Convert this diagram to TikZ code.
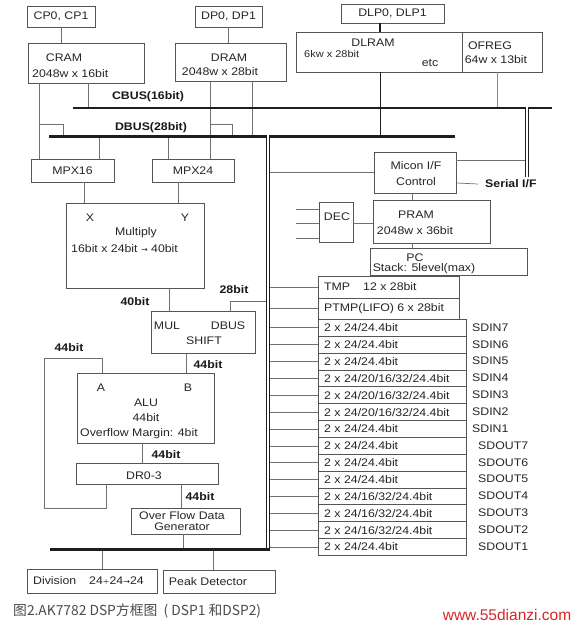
\documentclass[tikz,border=0pt]{standalone}
\usepackage{fontspec}
\setmainfont{Liberation Sans}[FakeStretch=1.12]
\newfontfamily\webfont{Liberation Sans}
\newfontfamily\cjkfont{Noto Sans CJK SC}
\newfontfamily\symfont{DejaVu Sans}
\definecolor{boxgray}{HTML}{555555}
\definecolor{wiregray}{HTML}{707070}
\definecolor{busblack}{HTML}{1E1E1E}
\definecolor{webred}{HTML}{D8262A}
\newcommand\boxfont{\fontsize{11}{13}\selectfont}
\newcommand\smallboxfont{\fontsize{9.8}{11}\selectfont}
\newcommand\rowA{2 x 24/24.4bit}
\newcommand\rowB{2 x 24/20/16/32/24.4bit}
\newcommand\rowC{2 x 24/16/32/24.4bit}
\newcommand\arr{{\symfont\fontsize{8}{10}\selectfont →}}
\tikzset{
  blk/.style={draw=boxgray,line width=0.8pt,inner sep=0pt,font=\boxfont,text=black!85},
  txt/.style={inner sep=0pt,font=\boxfont,text=black!85},
  buslabel/.style={inner sep=0pt,font=\boxfont\bfseries,text=black!90},
  wire/.style={draw=wiregray,line width=0.7pt},
  dbl/.style={draw=busblack,double=white,double distance=1.1pt,line width=1.3pt}
}
\begin{document}
\begin{tikzpicture}[x=1pt,y=-1pt]
\useasboundingbox[fill=white] (0,0) rectangle (576,626);
\node[blk,minimum width=68,minimum height=21] (cp) at (61,16.5) {CP0, CP1};
\node[blk,minimum width=67,minimum height=21] (dp) at (228.5,16.5) {DP0, DP1};
\node[blk,minimum width=103,minimum height=19] (dlp) at (392.5,13.5) {DLP0, DLP1};
\node[blk,minimum width=116,minimum height=40] (cram) at (86,63) {};
\node[txt] (cramname) at (64,58) {CRAM};
\node[txt,anchor=west] (cramsize) at (32,74) {2048w x 16bit};
\node[blk,minimum width=111,minimum height=38] (dram) at (230.5,62) {};
\node[txt] (dramname) at (229,58) {DRAM};
\node[txt] (dramsize) at (220,72) {2048w x 28bit};
\node[blk,minimum width=166,minimum height=40] (dlram) at (379,52) {};
\node[txt] (dlramname) at (373,43) {DLRAM};
\node[txt,anchor=west,font=\smallboxfont] (dlramsize) at (304,54) {6kw x 28bit};
\node[txt] (dlrametc) at (430,63) {etc};
\node[blk,minimum width=80,minimum height=40] (ofreg) at (502,52) {};
\node[txt] (ofregname) at (490,46) {OFREG};
\node[txt] (ofregsize) at (496,60) {64w x 13bit};
\node[blk,minimum width=83,minimum height=23] (mpx16) at (72.5,170.5) {MPX16};
\node[blk,minimum width=82,minimum height=23] (mpx24) at (193,170.5) {MPX24};
\node[blk,minimum width=138,minimum height=85] (mult) at (135,245.5) {};
\node[txt] (multx) at (90,218) {X};
\node[txt] (multy) at (185,218) {Y};
\node[txt] (multname) at (136,233) {Multiply};
\node[txt,anchor=west] (multbits) at (71,249) {16bit x 24bit \arr\ 40bit};
\node[blk,minimum width=104,minimum height=42] (shift) at (203,332) {};
\node[txt] (shiftmul) at (167,326) {MUL};
\node[txt] (shiftdbus) at (228,326) {DBUS};
\node[txt] (shiftname) at (204,341) {SHIFT};
\node[blk,minimum width=137,minimum height=70] (alu) at (145.5,408) {};
\node[txt] (alua) at (101,388) {A};
\node[txt] (alub) at (188,388) {B};
\node[txt] (aluname) at (146,403) {ALU};
\node[txt] (alubits) at (146,418) {44bit};
\node[txt] (alumargin) at (139,434) {Overflow Margin: 4bit};
\node[blk,minimum width=142,minimum height=21] (dr) at (147,473.5) {};
\node[txt] (drname) at (144,476) {DR0-3};
\node[blk,minimum width=109,minimum height=26] (ofd) at (185.5,521) {};
\node[txt,align=center,font=\fontsize{11}{10.5}\selectfont] (ofdname) at (182,521) {Over Flow Data\\Generator};
\node[blk,minimum width=130,minimum height=24] (div) at (92,581) {};
\node[txt,anchor=west] (divname) at (33,581) {Division};
\node[txt,anchor=west] (divop) at (89,581) {24{\symfont\fontsize{8}{10}\selectfont ÷}24\arr24};
\node[blk,minimum width=112,minimum height=23] (peak) at (219,581.5) {};
\node[txt] (peakname) at (208,582) {Peak Detector};
\node[blk,minimum width=82,minimum height=41] (micon) at (415,172.5) {};
\node[txt] (miconname) at (416,166) {Micon I/F};
\node[txt] (miconctl) at (416,182) {Control};
\node[blk,minimum width=117,minimum height=43] (pram) at (431.5,221.5) {};
\node[txt] (pramname) at (416,215) {PRAM};
\node[txt] (pramsize) at (415,231) {2048w x 36bit};
\node[blk,minimum width=34,minimum height=40] (dec) at (336,222) {};
\node[txt] (decname) at (337,217) {DEC};
\node[blk,minimum width=157,minimum height=27] (pc) at (448.5,261.5) {};
\node[txt] (pcname) at (415,257.5) {PC};
\node[txt] (pcstack) at (424,269) {Stack: 5level(max)};
\node[blk,minimum width=141,minimum height=22] (tmp) at (388.5,287) {};
\node[txt,anchor=west] (tmpname) at (324,287) {TMP};
\node[txt,anchor=west] (tmpsize) at (363,287) {12 x 28bit};
\node[blk,minimum width=141,minimum height=21] (ptmp) at (388.5,308.5) {};
\node[txt,anchor=west] (ptmpname) at (324,309) {PTMP(LIFO) 6 x 28bit};
\coordinate (cbusL) at (73,108);
\coordinate (cbusR) at (552,108);
\coordinate (dbusL) at (49,136);
\coordinate (dbusR) at (455,136);
\coordinate (vbusT) at (268,134.5);
\coordinate (vbusB) at (268,549);
\coordinate (botL) at (50,549);
\coordinate (sbusT) at (527,107);
\coordinate (sbusB) at (527,177);
\coordinate (cramtap) at (39,124);
\coordinate (dramtap) at (210,124);
\foreach \i/\w/\lab/\lx in {1/\rowA/SDIN7/472,2/\rowA/SDIN6/472,3/\rowA/SDIN5/472,4/\rowB/SDIN4/472,5/\rowB/SDIN3/472,6/\rowB/SDIN2/472,7/\rowA/SDIN1/472,8/\rowA/SDOUT7/478,9/\rowA/SDOUT6/478,10/\rowA/SDOUT5/478,11/\rowC/SDOUT4/478,12/\rowC/SDOUT3/478,13/\rowC/SDOUT2/478,14/\rowA/SDOUT1/478}{
  \node[blk,anchor=north west,minimum width=148,minimum height=16.86] (r\i) at (318,{319+(\i-1)*16.86}) {};
  \node[txt,anchor=west] (rt\i) at ([xshift=6pt]r\i.west) {\w};
  \node[txt,anchor=west] (rl\i) at (\lx,{327.4+(\i-1)*16.86}) {\lab};
  \draw[wire] (vbusT |- r\i.west) -- (r\i.west);
}
\draw[wire] (cp.south) -- (cp.south |- cram.north);
\draw[wire] (dp.south) -- (dp.south |- dram.north);
\draw[busblack,line width=1.3pt] (dlp.south -| 380,0) -- (dlram.north -| 380,0);
\draw[wire] (cram.south -| 39,0) -- (mpx16.north -| 39,0);
\draw[wire] (cram.south -| 88,0) -- (cbusL -| 88,0);
\draw[wire] (cramtap) -| (dbusL -| 63,0);
\draw[wire] (dram.south -| 210,0) -- (mpx24.north -| 210,0);
\draw[wire] (dram.south -| 252,0) -- (dbusL -| 252,0);
\draw[wire] (dramtap) -| (dbusL -| 232,0);
\draw[busblack,line width=0.8pt] (dlram.south -| 380,0) -- (dbusL -| 380,0);
\draw[wire,draw=black!45] (ofreg.south -| 497,0) -- (cbusL -| 497,0);
\draw[wire] (dbusL -| 99,0) -- (mpx16.north -| 99,0);
\draw[wire] (dbusL -| 168,0) -- (mpx24.north -| 168,0);
\draw[wire] (mpx16.south -| 84,0) -- (mult.north -| 84,0);
\draw[wire] (mpx24.south -| 178,0) -- (mult.north -| 178,0);
\draw[wire] (mult.south -| 169,0) -- (shift.north -| 169,0);
\draw[wire] (shift.north -| 230,0) |- (vbusT |- 0,301);
\draw[wire] (shift.south -| 186,0) -- (alu.north -| 186,0);
\draw[wire] (alu.south -| 142,0) -- (dr.north -| 142,0);
\draw[wire] (dr.south -| 181,0) -- (ofd.north -| 181,0);
\draw[wire] (ofd.south -| 183,0) -- (botL -| 183,0);
\draw[wire] (alu.north -| 102,0) |- (44,358) |- (106,508) -- (dr.south -| 106,0);
\draw[wire] (botL -| 102,0) -- (div.north -| 102,0);
\draw[wire] (botL -| 213,0) -- (peak.north -| 213,0);
\draw[wire] (vbusT |- micon.west) -- (micon.west);
\draw[wire] (micon.east |- 0,160) -- (sbusT |- 0,160);
\draw[wire] (micon.south -| 412,0) -- (pram.north -| 412,0);
\draw[wire] (dec.east |- 0,223) -- (pram.west |- 0,223);
\foreach \y in {209,223,238} \draw[wire] (296,\y) -- (dec.west |- 0,\y);
\draw[wire] (pram.south -| 412,0) -- (pc.north -| 412,0);
\draw[wire] (vbusT |- tmp.west) -- (tmp.west);
\draw[wire] (vbusT |- ptmp.west) -- (ptmp.west);
\draw[busblack,line width=2pt] (cbusL) -- (cbusR);
\draw[busblack,line width=3pt] (dbusL) -- (dbusR);
\draw[dbl] (vbusT) -- (vbusB);
\draw[busblack,line width=3pt] (botL) -- ([xshift=2pt]vbusB);
\draw[dbl] (sbusT) -- (sbusB);
\node[buslabel,anchor=west,fill=white,inner sep=1pt] (serial) at (484,184) {Serial I/F};
\draw[wire] (micon.east |- 0,183) -- ([xshift=-6pt]serial.west);
\node[buslabel] (cbuslabel) at (148,97) {CBUS(16bit)};
\node[buslabel] (dbuslabel) at (151,128) {DBUS(28bit)};
\node[buslabel] (mulout) at (135,302) {40bit};
\node[buslabel] (dbusin) at (234,290) {28bit};
\node[buslabel] (loopbits) at (69,348) {44bit};
\node[buslabel] (shiftout) at (208,365) {44bit};
\node[buslabel] (aluout) at (166,455) {44bit};
\node[buslabel] (drout) at (200,497) {44bit};
\node[anchor=west,inner sep=0pt,font=\cjkfont\fontsize{13.8}{15}\selectfont,text=black!70] (caption) at (13,611) {图2.AK7782 DSP方框图\ \ ( DSP1 和DSP2)};
\node[inner sep=0pt,font=\webfont\fontsize{15.5}{17}\selectfont,text=webred] (web) at (507,615) {www.55dianzi.com};
\end{tikzpicture}
\end{document}
